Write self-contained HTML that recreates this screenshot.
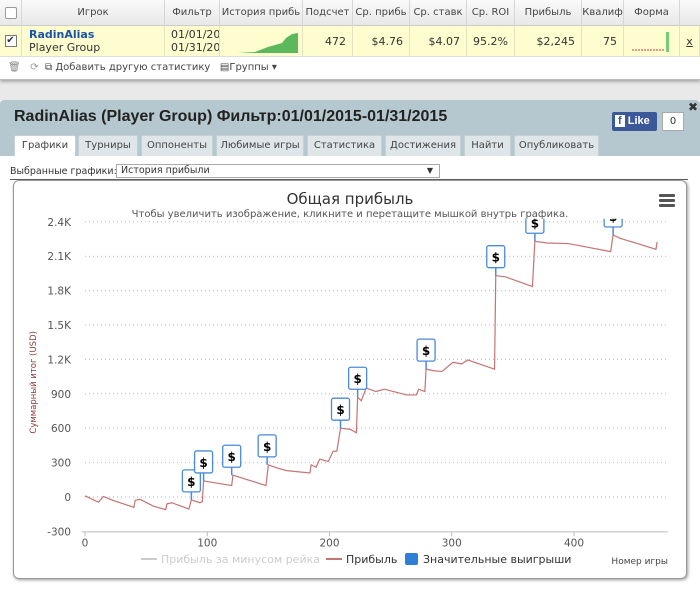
<!DOCTYPE html>
<html><head><meta charset="utf-8">
<style>
*{box-sizing:border-box}
body{margin:0;width:700px;height:591px;overflow:hidden;background:#e9e9e9;font-family:"DejaVu Sans","Liberation Sans",sans-serif;font-size:10px;color:#333;position:relative}
.abs{position:absolute}
#tbl{left:0;top:0;width:700px;height:80px;background:#fff;border-bottom:1px solid #bbb;box-shadow:0 2px 3px #aaa}
.hdr{top:0;height:26px;left:0;width:700px;background:linear-gradient(#fafafa,#e8e8e8);border-bottom:1px solid #ccc}
.hc{position:absolute;top:0;height:26px;line-height:26px;text-align:center;border-right:1px solid #d6d6d6;font-size:10px;white-space:nowrap;overflow:hidden;color:#444}
.row{top:26px;height:31px;left:0;width:700px;background:#fdfdd0;border-bottom:1px solid #ddd}
.rc{position:absolute;top:0;height:31px;line-height:31px;text-align:right;padding-right:6px;border-right:1px solid #e4e4c0;font-size:11px;overflow:hidden}
#panel{left:0;top:100px;width:700px;height:491px;background:#fff}
#phead{left:0;top:0;width:700px;height:56px;background:#b5c8cf;border-radius:4px 4px 0 0}
.tab{position:absolute;top:35px;height:21px;line-height:20px;background:#dfe6e9;border:1px solid #c5d0d4;border-bottom:none;font-size:10px;text-align:center;color:#444;border-radius:2px 2px 0 0}
</style></head><body>
<div id="tbl" class="abs">
 <div class="abs hdr">
  <div class="hc" style="left:0;width:22px"><div style="width:12px;height:12px;border:1px solid #999;border-radius:2px;background:#fff;margin:7px auto"></div></div>
  <div class="hc" style="left:22px;width:143px">Игрок</div>
  <div class="hc" style="left:165px;width:55px">Фильтр</div>
  <div class="hc" style="left:220px;width:83px">История прибь</div>
  <div class="hc" style="left:303px;width:50px">Подсчет</div>
  <div class="hc" style="left:353px;width:57px">Ср. прибь</div>
  <div class="hc" style="left:410px;width:57px">Ср. ставк</div>
  <div class="hc" style="left:467px;width:48px">Ср. ROI</div>
  <div class="hc" style="left:515px;width:67px">Прибыль</div>
  <div class="hc" style="left:582px;width:42px">Квалиф</div>
  <div class="hc" style="left:624px;width:56px">Форма</div>
 </div>
 <div class="abs row">
  <div class="rc" style="left:0;width:22px;padding:0"><div style="width:12px;height:12px;border:1px solid #777;background:#fff;margin:9px auto;font-size:10px;line-height:10px;text-align:center">✔</div></div>
  <div class="rc" style="left:22px;width:143px;text-align:left;padding-left:7px;line-height:13px;padding-top:2px"><b style="color:#1a55a5">RadinAlias</b><br>Player Group</div>
  <div class="rc" style="left:165px;width:55px;text-align:left;padding-left:6px;line-height:13px;padding-top:2px">01/01/20<br>01/31/20</div>
  <div class="rc" style="left:220px;width:83px;padding:0"><svg width="83" height="31"><polygon points="18,27 35,26 40,24 48,21 55,19 62,17 66,12 72,8 78,7 78,27" fill="#5cb85c"/></svg></div>
  <div class="rc" style="left:303px;width:50px">472</div>
  <div class="rc" style="left:353px;width:57px">$4.76</div>
  <div class="rc" style="left:410px;width:57px">$4.07</div>
  <div class="rc" style="left:467px;width:48px">95.2%</div>
  <div class="rc" style="left:515px;width:67px">$2,245</div>
  <div class="rc" style="left:582px;width:42px">75</div>
  <div class="rc" style="left:624px;width:56px;padding:0"><svg width="56" height="31"><line x1="8" y1="24" x2="40" y2="24" stroke="#d33" stroke-dasharray="2,1"/><rect x="42" y="6" width="3" height="20" fill="#7c7"/></svg></div>
  <div class="rc" style="left:680px;width:20px;text-align:center;padding:0;text-decoration:underline">x</div>
 </div>
 <div class="abs" style="left:8px;top:62px;font-size:10px;color:#444;white-space:nowrap"><span style="color:#888">🗑</span>&nbsp;&nbsp;&nbsp;<span style="color:#999">⟳</span>&nbsp;&nbsp;<span>⧉ Добавить другую статистику</span>&nbsp;&nbsp;&nbsp;<span>▤Группы ▾</span></div>
</div>

<div id="panel" class="abs">
 <div id="phead" class="abs">
  <div class="abs" style="left:14px;top:8px;font-size:16px;font-family:'Liberation Sans',sans-serif;font-weight:bold;color:#222">RadinAlias (Player Group) Фильтр:01/01/2015-01/31/2015</div>
  <div class="abs" style="left:612px;top:12px;width:45px;height:19px;background:#3b5998;color:#fff;font-weight:bold;font-size:11px;line-height:19px;padding-left:3px;border-radius:2px;font-family:'Liberation Sans',sans-serif"><span style="background:#fff;color:#3b5998;padding:0 3px">f</span> Like</div>
  <div class="abs" style="left:662px;top:12px;width:22px;height:19px;background:#fff;border:1px solid #aaa;text-align:center;line-height:17px;font-size:10px">0</div>
  <div class="abs" style="left:688px;top:0;font-size:12px;font-weight:bold">✖</div>
  <div class="tab" style="left:14px;width:62px;background:#fff">Графики</div>
  <div class="tab" style="left:78px;width:60px">Турниры</div>
  <div class="tab" style="left:141px;width:72px">Оппоненты</div>
  <div class="tab" style="left:216px;width:88px">Любимые игры</div>
  <div class="tab" style="left:307px;width:75px">Статистика</div>
  <div class="tab" style="left:385px;width:76px">Достижения</div>
  <div class="tab" style="left:464px;width:47px">Найти</div>
  <div class="tab" style="left:514px;width:85px">Опубликовать</div>
 </div>
 <div class="abs" style="left:10px;top:66px;font-size:9.5px">Выбранные графики:</div>
 <div class="abs" style="left:116px;top:64px;width:324px;height:14px;border:1px solid #aaa;font-size:9.5px;line-height:12px;padding-left:4px;background:#fff">История прибыли<span style="position:absolute;right:6px;font-size:8px">▼</span></div>
 <div class="abs" style="left:10px;top:79px;width:678px;height:1px;background:#555"></div>
</div>

<div class="abs" style="left:13px;top:180px;width:674px;height:399px;border:1px solid #999;border-radius:6px;background:#fff;box-shadow:1px 1px 3px #999">
<svg id="chart" width="674" height="399" style="position:absolute;left:-1px;top:-1px" font-family="DejaVu Sans, Liberation Sans, sans-serif"></svg>
</div>

<script>
const yTicks=[-300,0,300,600,900,1200,1500,1800,2100,2400];
const yTickLabels=["-300","0","300","600","900","1.2K","1.5K","1.8K","2.1K","2.4K"];
const xTicks=[0,100,200,300,400];
const profitGames=[0,1,11,15,23,40,41,45,56,66,67,71,85,87,94,96,97,120,121,148,150,158,165,184,185,189,192,199,203,206,209,217,222,223,226,230,238,245,263,271,273,278,279,286,292,301,308,313,335,336,344,366,368,378,395,403,430,432,438,452,467,468];
const profitValues=[10,5,-45,5,-30,-90,-30,-20,-80,-110,-60,-50,-105,-25,-50,-40,140,100,190,100,280,250,230,210,280,260,330,310,400,400,600,590,560,870,840,950,920,940,890,890,940,920,1115,1100,1095,1175,1160,1195,1115,1930,1920,1835,2230,2215,2210,2195,2140,2285,2255,2210,2160,2225];
const winGames=[87,97,120,149,209,223,279,336,368,432];
const winValues=[-25,140,190,280,600,870,1115,1930,2230,2285];

const NS="http://www.w3.org/2000/svg";
const svg=document.getElementById('chart');
// svg origin is page (13,180) offset; axis functions in svg coords
const X=g=>72+g*1.2225;
const Y=v=>317-v*0.11467;
function el(t,a,p){const e=document.createElementNS(NS,t);for(const k in a)e.setAttribute(k,a[k]);(p||svg).appendChild(e);return e;}
function tx(s,a){const e=el('text',a);e.textContent=s;return e;}

const title=tx("Общая прибыль",{x:337,y:24,'text-anchor':'middle','font-size':15,fill:'#333'});


const sub=tx("Чтобы увеличить изображение, кликните и перетащите мышкой внутрь графика.",{x:337,y:37,'text-anchor':'middle','font-size':10,fill:'#555'});


const menu=el('g',{});


[15,20,25].forEach(y=>el('rect',{x:646,y:y-1,width:16,height:3,fill:'#555',rx:1},menu));

yTicks.forEach((v,i)=>{
  if(v>-300){const l=el('line',{x1:72,x2:655,y1:Y(v),y2:Y(v),stroke:'#bbb','stroke-dasharray':'1,3'});
  
  }
  const t=tx(yTickLabels[i],{x:58,y:Y(v)+4,'text-anchor':'end','font-size':10.5,fill:'#555'});
  
  
});
const xa=el('line',{x1:69,x2:655,y1:Y(-300)+0.5,y2:Y(-300)+0.5,stroke:'#bbb'});


xTicks.forEach(g=>{
  el('line',{x1:X(g),x2:X(g),y1:Y(-300),y2:Y(-300)+5,stroke:'#bbb'});
  const t=tx(String(g),{x:X(g),y:Y(-300)+15,'text-anchor':'middle','font-size':10.5,fill:'#555'});
  
  
});
const yt=tx("Суммарный итог (USD)",{x:0,y:0,'text-anchor':'middle','font-size':8.5,fill:'#8b3a3a',transform:`translate(23,${Y(1000)}) rotate(-90)`});



const clip=el('clipPath',{id:'pc'});el('rect',{x:65,y:Y(2400)-3,width:600,height:400},clip);
const pl=el('polyline',{points:profitGames.map((g,i)=>X(g)+','+Y(profitValues[i])).join(' '),fill:'none',stroke:'#c57373','stroke-width':1.2});



const flags=el('g',{'clip-path':'url(#pc)'});
winGames.forEach((g,i)=>{
  const x=X(g),y=Y(winValues[i]);
  const f=el('g',{},flags);
  
  
  el('line',{x1:x,x2:x,y1:y,y2:y-8,stroke:'#4a8ad8','stroke-width':1.5},f);
  el('rect',{x:x-9,y:y-30,width:18,height:22,rx:2,fill:'#fff',stroke:'#4a8ad8','stroke-width':1.3},f);
  const t=el('text',{x:x,y:y-14,'text-anchor':'middle','font-size':12,'font-weight':'bold',fill:'#000'},f);t.textContent='$';
});

const lg=el('g',{});


const le1=el('g',{},lg);


el('line',{x1:128,x2:144,y1:379,y2:379,stroke:'#ccc','stroke-width':2},le1);
const a1=el('text',{x:148,y:383,'font-size':11,fill:'#ccc'},le1);a1.textContent='Прибыль за минусом рейка';
const le2=el('g',{},lg);


el('line',{x1:313,x2:329,y1:379,y2:379,stroke:'#c57373','stroke-width':2},le2);
const a2=el('text',{x:333,y:383,'font-size':11,fill:'#333'},le2);a2.textContent='Прибыль';
const le3=el('g',{},lg);


el('rect',{x:392,y:373,width:13,height:12,rx:2,fill:'#2f7ed8'},le3);
const a3=el('text',{x:410,y:383,'font-size':11,fill:'#333'},le3);a3.textContent='Значительные выигрыши';
const xt=tx("Номер игры",{x:655,y:384,'text-anchor':'end','font-size':9,fill:'#444'});


</script>
</body></html>
